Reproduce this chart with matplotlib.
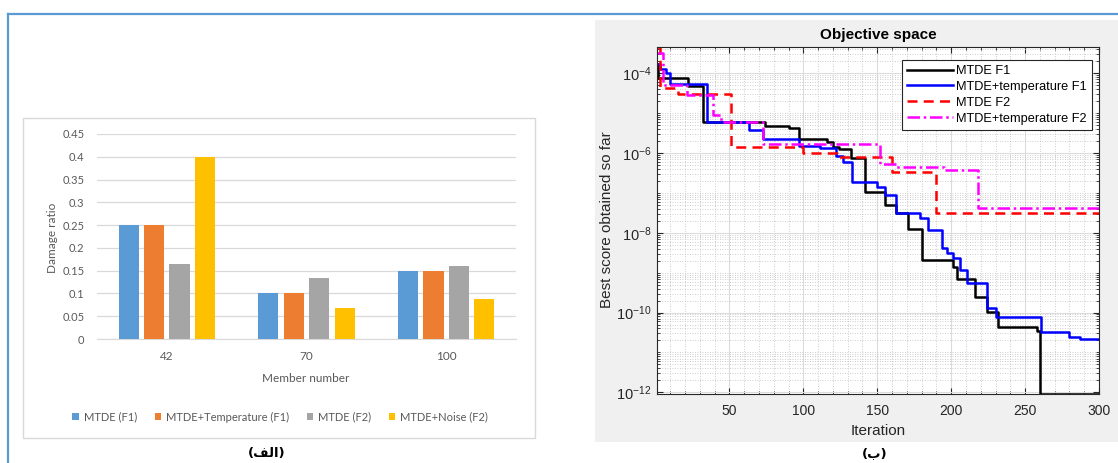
import matplotlib
matplotlib.use("Agg")
import matplotlib.pyplot as plt
import numpy as np
from matplotlib.patches import Rectangle, Patch
from matplotlib.lines import Line2D
from matplotlib.ticker import LogLocator, FixedLocator, NullFormatter, FuncFormatter, MultipleLocator

plt.rcParams["mathtext.fontset"] = "custom"
plt.rcParams["mathtext.rm"] = "Liberation Sans"
plt.rcParams["mathtext.it"] = "Liberation Sans:italic"
plt.rcParams["mathtext.bf"] = "Liberation Sans:bold"

# ---------------- data: bar chart (left) ----------------
members = ["42", "70", "100"]
bar_series = ["MTDE (F1)", "MTDE+Temperature (F1)", "MTDE (F2)", "MTDE+Noise (F2)"]
mtde_f1 = [0.25, 0.10, 0.15]
mtde_temp_f1 = [0.25, 0.10, 0.15]
mtde_f2 = [0.165, 0.135, 0.16]
mtde_noise_f2 = [0.40, 0.067, 0.087]
bar_ticks = [0, 0.05, 0.1, 0.15, 0.2, 0.25, 0.3, 0.35, 0.4, 0.45]
bar_colors = ["#5B9BD5", "#ED7D31", "#A5A5A5", "#FFC000"]

# ---------------- data: convergence curves (right) ----------------
black_it = [1, 2, 22, 32, 74, 90, 97, 116, 120, 124, 132, 142, 155, 163, 171, 180,
            201, 204, 216, 224, 232, 258, 260, 300]
black_val = [1.7e-4, 7.8e-5, 4.9e-5, 6.0e-6, 4.8e-6, 4.3e-6, 2.2e-6, 1.9e-6, 1.44e-6,
             1.24e-6, 7.7e-7, 1.03e-7, 5.0e-8, 3.1e-8, 1.23e-8, 2.1e-9, 1.4e-9, 6.8e-10,
             2.5e-10, 1.05e-10, 4.3e-11, 3.5e-11, 9.3e-13, 9.3e-13]
blue_it = [1, 3, 7, 10, 35, 63, 73, 97, 111, 122, 127, 133, 150, 155, 163, 179, 184,
           194, 197, 201, 206, 211, 224, 230, 261, 280, 287, 300]
blue_val = [1.7e-4, 1.3e-4, 1.0e-4, 5.5e-5, 6.0e-6, 3.9e-6, 2.3e-6, 1.5e-6, 1.36e-6,
            8.5e-7, 6.0e-7, 1.85e-7, 1.44e-7, 8.9e-8, 3.1e-8, 2.3e-8, 1.17e-8, 4.1e-9,
            3.1e-9, 2.3e-9, 1.17e-9, 5.4e-10, 1.3e-10, 7.9e-11, 3.3e-11, 2.5e-11,
            2.2e-11, 2.2e-11]
red_it = [1, 3, 15, 51, 100, 123, 160, 190, 300]
red_val = [4.6e-4, 4.3e-5, 3.0e-5, 1.39e-6, 1.02e-6, 8.1e-7, 3.4e-7, 3.1e-8, 3.1e-8]
magenta_it = [1, 5, 21, 39, 44, 73, 152, 163, 195, 218, 300]
magenta_val = [3.2e-4, 5.1e-5, 2.9e-5, 8.9e-6, 6.1e-6, 1.7e-6, 5.3e-7, 4.6e-7, 3.7e-7,
               4.1e-8, 4.1e-8]
line_labels = ["MTDE F1", "MTDE+temperature F1", "MTDE F2", "MTDE+temperature F2"]

W, H = 1118, 463
fig = plt.figure(figsize=(W / 100, H / 100), dpi=100)
fig.patch.set_facecolor("white")

def fx(x):
    return x / W

def fy(y):
    return 1 - y / H

# outer blue frame
fig.add_artist(Line2D([fx(8), fx(W)], [fy(14), fy(14)], color="#5B9BD5", lw=1.6,
                      transform=fig.transFigure))
fig.add_artist(Line2D([fx(8), fx(8)], [fy(14), fy(H)], color="#5B9BD5", lw=1.6,
                      transform=fig.transFigure))

# left chart box
fig.add_artist(Rectangle((fx(23), fy(438)), fx(535) - fx(23), fy(118) - fy(438),
                         transform=fig.transFigure, fill=False, edgecolor="#D9D9D9", lw=1))

# right gray panel
fig.add_artist(Rectangle((fx(595), fy(442)), fx(W) - fx(595), fy(20) - fy(442),
                         transform=fig.transFigure, facecolor="#F0F0F0", edgecolor="none",
                         zorder=0))

# ---------------- left bar chart ----------------
txtc = "#595959"
lfont = "Lato"
ax1 = fig.add_axes([fx(97), fy(339), fx(516) - fx(97), fy(134) - fy(339)])
x = np.arange(len(members))
series = [mtde_f1, mtde_temp_f1, mtde_f2, mtde_noise_f2]
step = 0.182
bw = 0.145
for i, (vals, col, lab) in enumerate(zip(series, bar_colors, bar_series)):
    ax1.bar(x + (i - 1.5) * step, vals, width=bw, color=col, label=lab, zorder=3)
ax1.set_xlim(-0.5, 2.5)
ax1.set_ylim(0, 0.45)
ax1.set_yticks(bar_ticks)
ax1.set_yticklabels([("%g" % t) for t in bar_ticks], fontsize=8, color=txtc, family=lfont)
ax1.set_xticks(x)
ax1.set_xticklabels(members, fontsize=8.5, color=txtc, family=lfont)
ax1.tick_params(axis="both", length=0)
ax1.tick_params(axis="y", pad=9)
ax1.tick_params(axis="x", pad=9)
ax1.grid(axis="y", color="#D9D9D9", lw=0.9, zorder=0)
for s in ["top", "right", "left"]:
    ax1.spines[s].set_visible(False)
ax1.spines["bottom"].set_color("#D9D9D9")
ax1.set_facecolor("none")

fig.text(fx(52), fy(238), "Damage ratio", rotation=90, ha="center", va="center",
         fontsize=8.5, color=txtc, family=lfont)
fig.text(fx(306), fy(379), "Member number", ha="center", va="center",
         fontsize=8.5, color=txtc, family=lfont)
handles = [Patch(facecolor=c, edgecolor="none") for c in bar_colors]
fig.legend(handles, bar_series, loc="center", bbox_to_anchor=(fx(280), fy(417)),
           ncol=4, frameon=False, handlelength=0.6, handleheight=0.6, handletextpad=0.4,
           columnspacing=1.6, prop={"family": lfont, "size": 8}, labelcolor=txtc)

# Arabic captions (presentation forms, visual order)
fig.text(fx(267), fy(453), "(\uFED2\uFEDF\uFE8D)", ha="center", va="center",
         fontsize=9.5, fontweight="bold", family="DejaVu Sans", color="black")
fig.text(fx(875), fy(454), "(\uFE8F)", ha="center", va="center",
         fontsize=9.5, fontweight="bold", family="DejaVu Sans", color="black")

# ---------------- right convergence plot ----------------
rfont = "Liberation Sans"
ax2 = fig.add_axes([fx(657), fy(394), fx(1099) - fx(657), fy(47) - fy(394)])
ax2.set_facecolor("white")
lw = 1.8
ax2.plot(black_it, black_val, drawstyle="steps-post", color="black", lw=lw,
         label=line_labels[0])
ax2.plot(blue_it, blue_val, drawstyle="steps-post", color="#0000FF", lw=lw,
         label=line_labels[1])
ax2.plot(red_it, red_val, drawstyle="steps-post", color="#FF0000", lw=lw,
         linestyle=(0, (4, 2.5)), label=line_labels[2])
ax2.plot(magenta_it, magenta_val, drawstyle="steps-post", color="#FF00FF", lw=lw,
         linestyle=(0, (5, 1.5, 1, 1.5)), label=line_labels[3])
ax2.set_yscale("log")
ax2.set_xlim(1, 300)
ax2.set_ylim(9.1e-13, 4.57e-4)
ax2.set_xticks([50, 100, 150, 200, 250, 300])
ax2.xaxis.set_minor_locator(MultipleLocator(10))
ax2.yaxis.set_major_locator(FixedLocator([1e-12, 1e-10, 1e-8, 1e-6, 1e-4]))
ax2.yaxis.set_minor_locator(LogLocator(base=10, subs=np.arange(1, 10), numticks=100))
ax2.yaxis.set_minor_formatter(NullFormatter())

def logfmt(v, pos):
    e = int(round(np.log10(v)))
    return r"$\mathregular{10^{%d}}$" % e

ax2.yaxis.set_major_formatter(FuncFormatter(logfmt))
ax2.tick_params(axis="both", which="both", direction="in", top=True, right=True,
                colors="#262626", labelcolor="#262626")
ax2.tick_params(axis="x", labelsize=10, pad=7)
ax2.tick_params(axis="y", labelsize=10.5, pad=4)
ax2.tick_params(which="major", length=4)
ax2.tick_params(which="minor", length=2)
for lab in ax2.get_xticklabels() + ax2.get_yticklabels():
    lab.set_family(rfont)
ax2.grid(which="major", color="#DCDCDC", lw=0.8)
ax2.grid(which="minor", color="#BEBEBE", lw=0.6, linestyle=(0, (1, 2)))
ax2.set_axisbelow(True)
for s in ax2.spines.values():
    s.set_color("#262626")
    s.set_linewidth(0.8)

fig.text(fx(878), fy(35), "Objective space", ha="center", va="center", fontsize=11,
         fontweight="bold", family=rfont, color="black")
fig.text(fx(878), fy(431), "Iteration", ha="center", va="center", fontsize=11,
         family=rfont, color="#262626")
fig.text(fx(607), fy(220), "Best score obtained so far", rotation=90, ha="center",
         va="center", fontsize=11, family=rfont, color="#262626")

leg = ax2.legend(loc="upper right", bbox_to_anchor=(1 - 7 / 442, 1 - 13 / 347),
                 bbox_transform=ax2.transAxes, prop={"family": rfont, "size": 9.2},
                 handlelength=3.6, handletextpad=0.25, labelspacing=0.3,
                 borderpad=0.4, borderaxespad=0, fancybox=False, framealpha=1,
                 edgecolor="#262626")
leg.get_frame().set_linewidth(0.8)

fig.savefig("out.png", dpi=100, facecolor="white")
